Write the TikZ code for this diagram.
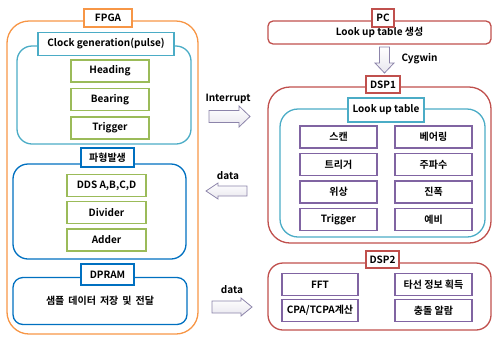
\documentclass[tikz,border=0pt]{standalone}
\usepackage{fontspec}
\setmainfont{Noto Sans CJK KR}[BoldFont={Noto Sans CJK KR Bold}]
\usetikzlibrary{shapes}
\definecolor{fpgaorange}{RGB}{247,150,70}
\definecolor{lutcyan}{RGB}{75,172,198}
\definecolor{itemgreen}{RGB}{155,187,89}
\definecolor{waveblue}{RGB}{0,112,192}
\definecolor{dspred}{RGB}{192,80,77}
\definecolor{itempurple}{RGB}{128,100,162}
\definecolor{arrowgray}{RGB}{140,132,170}
\tikzset{
  panel/.style = {draw, line width=1.3pt, rounded corners=#1, inner sep=0pt},
  tag/.style = {draw, fill=white, line width=1.6pt, inner sep=0pt, font=\bfseries},
  item/.style = {draw, line width=1.4pt, inner sep=0pt, minimum height=22pt, font=\bfseries},
  blockarrow/.style = {draw=arrowgray, top color=white, bottom color=arrowgray!20,
    line width=0.8pt, line join=miter}
}

\begin{document}
\begin{tikzpicture}[x=1pt, y=-1pt, font=\fontsize{9.5}{11}\selectfont]
     \useasboundingbox (0,0) rectangle (492,338);

     % FPGA
     \node[panel=22pt, draw=fpgaorange, minimum width=191pt, minimum height=313pt] (fpga) at (102.5,177.5) {};
     \node[panel=15pt, draw=lutcyan, minimum width=174pt, minimum height=98pt] (clk) at (104,95) {};
     \node[panel=15pt, draw=waveblue, minimum width=173pt, minimum height=95pt] (wave) at (99.5,211.5) {};
     \node[panel=10pt, draw=waveblue, minimum width=174pt, minimum height=47pt, font=\fontsize{10}{12}\selectfont\bfseries] (dpram) at (100,301)
       {샘플\hspace{4pt}데이터\hspace{4pt}저장\hspace{4pt}및\hspace{4pt}전달};
     \node[tag, draw=fpgaorange, minimum width=48pt, minimum height=18pt] (fpgatag) at (108,18) {FPGA};
     \node[tag, draw=lutcyan, minimum width=136pt, minimum height=23pt] (clktag) at (106,44) {Clock generation(pulse)};
     \node[tag, draw=waveblue, minimum width=53pt, minimum height=19pt] (wavetag) at (107.5,157.5) {파형발생};
     \node[tag, draw=waveblue, minimum width=53pt, minimum height=21pt] (dpramtag) at (107.5,274.5) {DPRAM};
     \foreach \t [count=\i] in {Heading,Bearing,Trigger}
       \node[item, draw=itemgreen, minimum width=78pt] (clk\i) at (110,{71+28.5*(\i-1)}) {\t};
     \foreach \t [count=\i] in {{DDS A,B,C,D},Divider,Adder}
       \node[item, draw=itemgreen, minimum width=79pt] (wave\i) at (106.5,{185.5+27.2*(\i-1)}) {\t};

     % PC
     \node[panel=5pt, draw=dspred, minimum width=223pt, minimum height=23pt, font=\bfseries] (pc) at (379.5,32.5) {Look up table 생성};
     \node[tag, draw=dspred, minimum width=22pt, minimum height=18pt] (pctag) at (383,18) {PC};
     \coordinate (cygwin) at (384.5,47);
     \draw[blockarrow] (cygwin) ++(-5,0) -- ++(10,0) -- ++(0,16) -- ++(4.5,0) -- ++(-9.5,10) -- ++(-9.5,-10) -- ++(4.5,0) -- cycle;
     \node[anchor=west, font=\bfseries] (cygwinlabel) at (398,59) {Cygwin};

     % DSP1
     \node[panel=22pt, draw=dspred, minimum width=223pt, minimum height=156pt] (dsp1) at (379.5,165) {};
     \node[panel=18pt, draw=lutcyan, minimum width=205pt, minimum height=128pt] (lut) at (382.5,173) {};
     \node[tag, draw=dspred, minimum width=34pt, minimum height=17pt] (dsp1tag) at (383,84.5) {DSP1};
     \node[tag, draw=lutcyan, minimum width=76pt, minimum height=24pt] (luttag) at (386,110) {Look up table};
     \foreach \l/\r [count=\i] in {스캔/베어링,트리거/주파수,위상/진폭,Trigger/예비}
     {\node[item, draw=itempurple, minimum width=77pt] (lutl\i) at (338.5,{137+27.5*(\i-1)}) {\l};
      \node[item, draw=itempurple, minimum width=77pt] (lutr\i) at (433.5,{137+27.5*(\i-1)}) {\r};
     }

     % DSP2
     \node[panel=15pt, draw=dspred, minimum width=223pt, minimum height=67pt] (dsp2) at (379.5,296.5) {};
     \node[tag, draw=dspred, minimum width=33pt, minimum height=17pt] (dsp2tag) at (382.5,259.5) {DSP2};
     \node[item, draw=itempurple, minimum width=76pt] (fft) at (320,284.5) {FFT};
     \node[item, draw=itempurple, minimum width=76pt] (cpa) at (320,310.5) {CPA/TCPA계산};
     \node[item, draw=itempurple, minimum width=77pt] (target) at (433.5,284.5) {타선 정보 획득};
     \node[item, draw=itempurple, minimum width=77pt] (alarm) at (433.5,310.5) {충돌 알람};

     % arrows between the boards
     \coordinate (irq) at (209,116.5);
     \draw[blockarrow] (irq) ++(0,-6) -- ++(30,0) -- ++(0,-4.5) -- ++(11,10.5) -- ++(-11,10.5) -- ++(0,-4.5) -- ++(-30,0) -- cycle;
     \node[font=\bfseries] (irqlabel) at (228,99) {Interrupt};
     \coordinate (datain) at (247,191);
     \draw[blockarrow] (datain) ++(0,-5) -- ++(-29,0) -- ++(0,-3) -- ++(-12,8) -- ++(12,8) -- ++(0,-3) -- ++(29,0) -- cycle;
     \node[font=\bfseries] (datainlabel) at (228,176) {data};
     \coordinate (dataout) at (212,307);
     \draw[blockarrow] (dataout) ++(0,-6) -- ++(29,0) -- ++(0,-3) -- ++(11,9) -- ++(-11,9) -- ++(0,-3) -- ++(-29,0) -- cycle;
     \node[font=\bfseries] (dataoutlabel) at (232,290) {data};
 \end{tikzpicture}
\end{document}
